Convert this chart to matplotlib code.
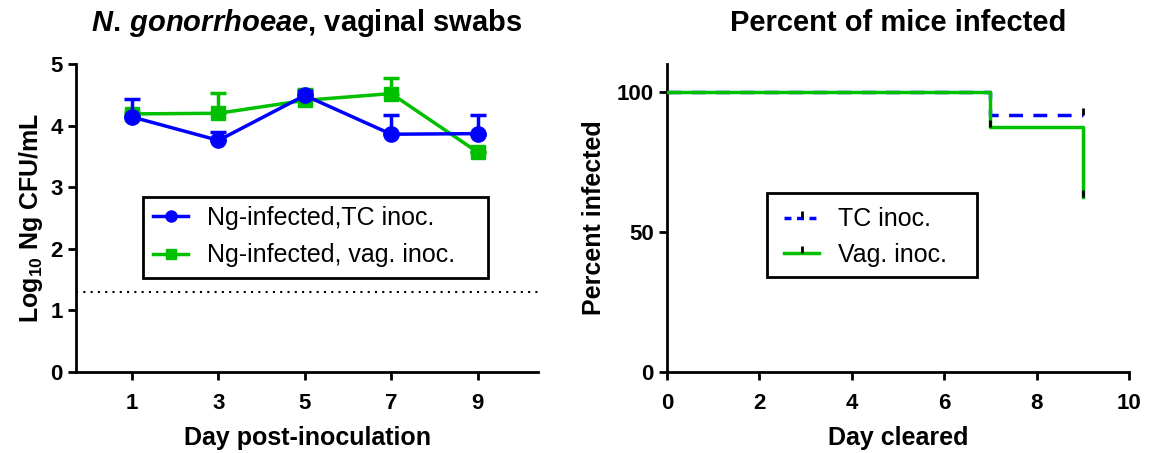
import matplotlib
matplotlib.use("Agg")
import matplotlib.pyplot as plt
from matplotlib.lines import Line2D
from matplotlib.patches import Rectangle
import numpy as np

plt.rcParams['font.family'] = ['Liberation Sans', 'DejaVu Sans']
plt.rcParams['mathtext.fontset'] = 'custom'
plt.rcParams['mathtext.rm'] = 'Liberation Sans:bold'
plt.rcParams['mathtext.it'] = 'Liberation Sans:italic:bold'
plt.rcParams['mathtext.bf'] = 'Liberation Sans:bold'

# ---- Left panel data ----
days = [1, 3, 5, 7, 9]
tc_mean = [4.14, 3.76, 4.49, 3.86, 3.87]
tc_err = [0.29, 0.13, 0.07, 0.31, 0.31]
vag_mean = [4.19, 4.20, 4.41, 4.52, 3.57]
vag_err = [0.03, 0.33, 0.18, 0.25, 0.0]
detection_limit = 1.30
left_labels = ['Ng-infected,TC inoc.', 'Ng-infected, vag. inoc.']

# ---- Right panel data ----
tc_time = [0, 7, 9]
tc_pct = [100, 91.67, 91.67]
tc_censor_t = [9]
tc_censor_p = [91.67]
vag_time = [0, 7, 9]
vag_pct = [100, 87.5, 62.5]
vag_censor_t = [7, 9]
vag_censor_p = [87.5, 62.5]
right_labels = ['TC inoc.', 'Vag. inoc.']

BLUE = '#0000ff'
GREEN = '#00c000'
W, H = 1154, 453

fig = plt.figure(figsize=(W / 100, H / 100), dpi=100)
ax1 = fig.add_axes([76/W, 1-372/H, (538-76)/W, (372-64)/H])
ax2 = fig.add_axes([667/W, 1-372/H, (1129-667)/W, (372-64)/H])

for ax in (ax1, ax2):
    for s in ('top', 'right'):
        ax.spines[s].set_visible(False)
    for s in ('left', 'bottom'):
        ax.spines[s].set_linewidth(2)
    ax.tick_params(width=2, length=6, labelsize=16, direction='out')
    ax.tick_params(axis='x', pad=9)

# Left
ax1.axhline(detection_limit, color='black', linestyle=(0, (1, 2.5)), linewidth=1.5)
ax1.errorbar(days, tc_mean, yerr=[np.zeros(5), tc_err], color=BLUE, marker='o',
             markersize=11, linewidth=2.5, capsize=6, capthick=2.5, elinewidth=2.5, zorder=3)
ax1.errorbar(days, vag_mean, yerr=[np.zeros(5), vag_err], color=GREEN, marker='s',
             markersize=10, linewidth=2.5, capsize=6, capthick=2.5, elinewidth=2.5, zorder=2)
ax1.set_xlim(-0.3, 10.4)
ax1.set_ylim(0, 5)
ax1.set_xticks(days)
ax1.set_yticks([0, 1, 2, 3, 4, 5])
ax1.set_xticklabels([str(d) for d in days], fontweight='bold')
ax1.set_yticklabels([str(v) for v in range(6)], fontweight='bold')
ax1.set_xlabel('Day post-inoculation', fontsize=18, fontweight='bold', labelpad=9)
ax1.set_ylabel(r'Log$_{10}$ Ng CFU/mL', fontsize=18, fontweight='bold')
ax1.set_title(r'$\mathit{N.\,gonorrhoeae}$, vaginal swabs', fontsize=21,
              fontweight='bold', pad=24)

h1 = Line2D([], [], color=BLUE, marker='o', markersize=8, linewidth=2.5)
h2 = Line2D([], [], color=GREEN, marker='s', markersize=7, linewidth=2.5)
leg1 = fig.legend([h1, h2], left_labels, loc='center left',
                  bbox_to_anchor=(153/W, 1-236.5/H), fontsize=18, frameon=False,
                  handlelength=1.4, handletextpad=0.75, labelspacing=0.55, borderpad=0,
                  borderaxespad=0)
fig.patches.append(Rectangle((143/W, 1-278/H), (488-143)/W, (278-197)/H,
                             transform=fig.transFigure, fill=False, edgecolor='black',
                             linewidth=2, zorder=5))

# Right
ax2.step(tc_time, tc_pct, where='post', color=BLUE, linestyle=(0, (4, 3)), linewidth=2.5, zorder=2)
ax2.step(vag_time, vag_pct, where='post', color=GREEN, linewidth=2.5, zorder=3)
ax2.plot(tc_censor_t, tc_censor_p, linestyle='none', marker=2, color='black', markersize=5, mew=2, zorder=4)
ax2.plot(vag_censor_t, vag_censor_p, linestyle='none', marker=2, color='black', markersize=5, mew=2, zorder=4)
ax2.set_xlim(0, 10)
ax2.set_ylim(0, 110)
ax2.set_xticks([0, 2, 4, 6, 8, 10])
ax2.set_yticks([0, 50, 100])
ax2.set_xticklabels(['0', '2', '4', '6', '8', '10'], fontweight='bold')
ax2.set_yticklabels(['0', '50', '100'], fontweight='bold')
ax2.set_xlabel('Day cleared', fontsize=18, fontweight='bold', labelpad=9)
ax2.set_ylabel('Percent infected', fontsize=18, fontweight='bold', labelpad=8)
ax2.set_title('Percent of mice infected', fontsize=21, fontweight='bold', pad=24)

h_tc = Line2D([], [], color=BLUE, linestyle=(0, (2, 1.6)), linewidth=2.5, marker=2,
              markeredgecolor='black', markersize=5, mew=2)
h_vag = Line2D([], [], color=GREEN, linewidth=2.5, marker=2,
               markeredgecolor='black', markersize=5, mew=2)
leg2 = fig.legend([h_tc, h_vag], right_labels, loc='center left',
                  bbox_to_anchor=(784/W, 1-237/H), fontsize=18, frameon=False,
                  handlelength=1.4, handletextpad=0.75, labelspacing=0.45, borderpad=0,
                  borderaxespad=0, numpoints=1)
fig.patches.append(Rectangle((767/W, 1-277/H), (977-767)/W, (277-193)/H,
                             transform=fig.transFigure, fill=False, edgecolor='black',
                             linewidth=2, zorder=5))

fig.savefig('out.png', dpi=100)
